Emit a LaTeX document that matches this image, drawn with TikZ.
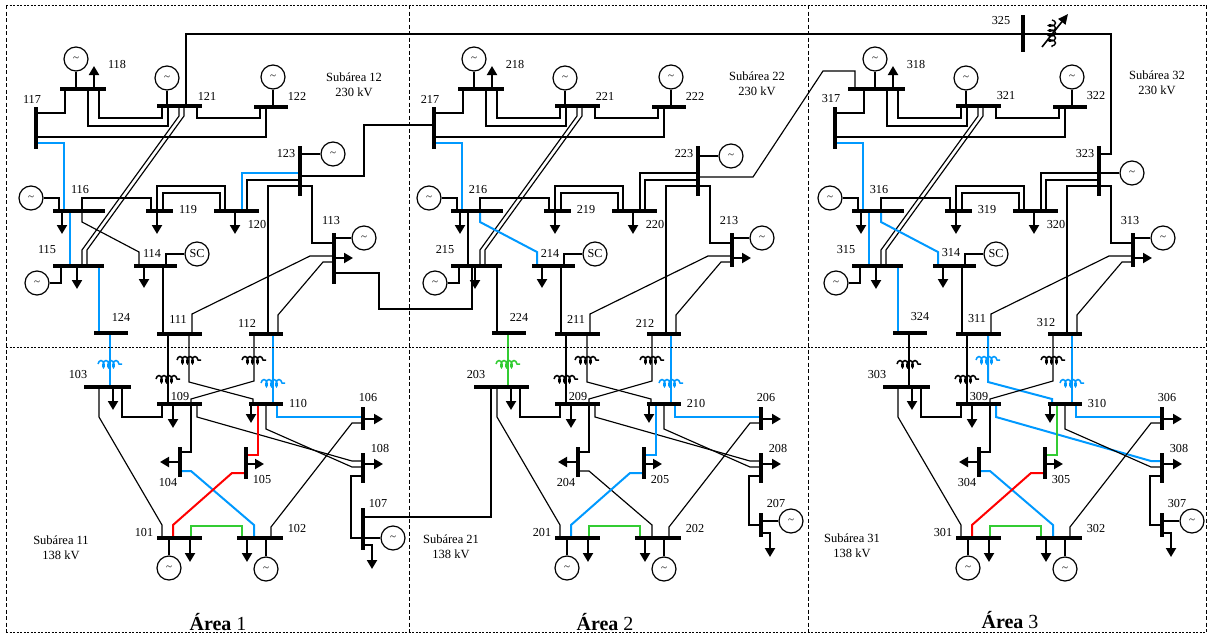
\documentclass[tikz,border=0pt]{standalone}
\usepackage{fontspec}
\setmainfont{Liberation Serif}
\usetikzlibrary{arrows.meta,decorations.pathmorphing}
\definecolor{cB}{RGB}{0,153,255}
\definecolor{cR}{RGB}{255,0,0}
\definecolor{cG}{RGB}{51,204,51}
\tikzset{
  ln/.style={draw=black,line width=1.15pt},
  lblue/.style={draw=cB,line width=2pt},
  lred/.style={draw=cR,line width=2pt},
  lgreen/.style={draw=cG,line width=2pt},
  bus/.style={draw=black,line width=3.2pt},
  load/.style={draw=black,line width=2pt,-{Triangle[length=9pt,width=10pt]}},
  gen/.style={circle,draw,line width=1.2pt,minimum size=24pt,inner sep=0pt,font=\fontsize{11}{11}\selectfont},
  lab/.style={inner sep=0pt,font=\fontsize{12.2}{14}\selectfont},
  sub/.style={inner sep=0pt,align=center,font=\fontsize{12.5}{15}\selectfont},
  frameV/.style={draw=black,line width=0.8pt,dash pattern=on 4pt off 2.5pt},
  frameH/.style={draw=black,line width=0.8pt,dash pattern=on 2pt off 1.5pt},
  arealab/.style={inner sep=0pt,font=\fontsize{20}{20}\selectfont},
}
\newcommand\xf[3]{\draw[#3,line width=1.5pt,decorate,decoration={coil,aspect=0.5,segment length=5pt,amplitude=3.5pt}] ({#1-12},#2) -- ({#1+12},#2);}
\newcommand\drawarea{%
 % ---------- lines ----------
 \draw[ln] (36,113) -| (65,89);
 \draw[ln] (99,89) |- (162,118) -- (162,106);
 \draw[ln] (88,89) |- (168,126) -- (168,106);
 \draw[ln] (197,106) |- (260,118) -- (260,107);
 \draw[ln] (36,137) -| (266,107);
 \draw[ln] (179,106) -- (179,116) -- (82,250) -- (82,266);
 \draw[ln] (184,106) -- (184,116) -- (87,250) -- (87,266);
 \draw[sSix] (300,173) -| (242,211);
 \draw[ln] (300,180) -| (247,211);
 \draw[ln] (300,186) -| (268,334);
 \draw[ln] (300,186) -| (312,243) -- (334,243);
 \draw[lblue] (36,143) -| (64,211);
 \draw[sTwo] (70,211) -- (70,266);
 \draw[sThree] (82,211) -- (82,222) -- (139,252) -- (139,266);
 \draw[ln] (82,211) |- (151,198) -- (151,211);
 \draw[ln] (157,211) |- (225,186) -- (225,211);
 \draw[ln] (163,211) |- (220,193) -- (220,211);
 \draw[sFour] (99,266) -- (99,333);
 \draw[sFive] (110,333) -- (110,387);
 \draw[ln] (163,266) -- (163,334);
 \draw[ln] (192,334) -- (192,314) -- (310,256) -- (334,256);
 \draw[ln] (278,334) -- (278,315) -- (323,262) -- (334,262);
 \draw[ln] (168,334) -- (168,404);
 \draw[sSeven] (189,334) -- (189,382) -- (253,399) -- (253,404);
 \draw[ln] (254,334) -- (254,381) -- (191,399) -- (191,404);
 \draw[lblue] (273,334) -- (273,404);
 \draw[ln] (122,387) |- (162,417) -- (162,404);
 \draw[ln] (99,387) -- (99,417) -- (162,525) -- (162,538);
 \draw[ln] (191,404) |- (180,452);
 \draw[sNine] (197,404) -- (197,417) -- (352,461) -- (363,461);
 \draw[sEleven] (258,404) |- (246,455);
 \draw[ln] (266,404) -- (266,429) -- (352,467) -- (363,467);
 \draw[lblue] (277,404) |- (363,417);
 \draw[ln] (363,423) -- (352,423) -- (271,527) -- (271,538);
 \draw[sThirteen] (180,471) -- (191,471) -- (254,525) -- (254,538);
 \draw[sTwelve] (246,473) -- (232,473) -- (173,525) -- (173,538);
 \draw[lgreen] (191,538) |- (242,526) -- (242,538);
 \draw[ln] (363,476) -- (351,476) |- (363,\yJ);
 % ---------- transformers ----------
 \xf{110}{364}{sFive}
 \xf{168}{379}{ln}
 \xf{189}{360}{sSeven}
 \xf{254}{360}{ln}
 \xf{273}{383}{lblue}
 % ---------- generators ----------
 \node[gen] (g\AR18) at (76,59) {\textasciitilde};
 \draw[ln] (g\AR18) -- (76,89);
 \node[gen] (g\AR21) at (167,78) {\textasciitilde};
 \draw[ln] (g\AR21) -- (167,106);
 \node[gen] (g\AR22) at (273,77) {\textasciitilde};
 \draw[ln] (g\AR22) -- (273,107);
 \node[gen] (g\AR23) at (333,\yGT) {\textasciitilde};
 \draw[ln] (300,\yGT) -- (g\AR23);
 \node[gen] (g\AR16) at (31,198) {\textasciitilde};
 \draw[ln] (g\AR16) -| (59,211);
 \node[gen] (g\AR15) at (37,283) {\textasciitilde};
 \draw[ln] (g\AR15) -| (61,266);
 \node[gen,font=\fontsize{12.2}{14}\selectfont] (sc\AR14) at (197,254) {SC};
 \draw[ln] (sc\AR14) -| (166,266);
 \node[gen] (g\AR13) at (364,238) {\textasciitilde};
 \draw[ln] (334,238) -- (g\AR13);
 \node[gen] (g\AR07) at (393,\yG) {\textasciitilde};
 \draw[ln] (363,\yG) -- (g\AR07);
 \node[gen] (g\AR01) at (169,568) {\textasciitilde};
 \draw[ln] (169,538) -- (g\AR01);
 \node[gen] (g\AR02) at (266,569) {\textasciitilde};
 \draw[ln] (266,538) -- (g\AR02);
 % ---------- loads ----------
 \draw[load] (94,89) -- (94,66);
 \draw[load] (62,211) -- (62,234);
 \draw[load] (157,211) -- (157,234);
 \draw[load] (235,211) -- (235,234);
 \draw[load] (77,266) -- (77,289);
 \draw[load] (144,266) -- (144,288);
 \draw[load] (334,258) -- (353,258);
 \draw[load] (113,387) -- (113,410);
 \draw[load] (173,404) -- (173,428);
 \draw[load] (251,404) -- (251,423);
 \draw[load] (363,419) -- (383,419);
 \draw[load] (363,464) -- (383,464);
 \draw[load] (180,462) -- (160,462);
 \draw[load] (246,464) -- (264,464);
 \draw[load] (190,538) -- (190,562);
 \draw[load] (247,538) -- (247,562);
 \draw[load] (363,\yL) -- (372,\yL) -- (372,\yLt);
 % ---------- buses ----------
 \draw[bus] (36,107) -- (36,149);
 \draw[bus] (\xEi,89) -- (106,89);
 \draw[bus] (157,106) -- (202,106);
 \draw[bus] (254,107) -- (288,107);
 \draw[bus] (300,146) -- (300,196);
 \draw[bus] (53,211) -- (105,211);
 \draw[bus] (146,211) -- (173,211);
 \draw[bus] (214,211) -- (259,211);
 \draw[bus] (53,266) -- (104,266);
 \draw[bus] (134,266) -- (177,266);
 \draw[bus] (94,333) -- (128,333);
 \draw[bus] (157,334) -- (202,334);
 \draw[bus] (249,334) -- (283,334);
 \draw[bus] (334,233) -- (334,\yTt);
 \draw[bus] (\xTh,387) -- (131,387);
 \draw[bus] (157,404) -- (202,404);
 \draw[bus] (249,404) -- (283,404);
 \draw[bus] (363,407) -- (363,430);
 \draw[bus] (363,453) -- (363,483);
 \draw[bus] (363,\yB) -- (363,\yE);
 \draw[bus] (180,447) -- (180,477);
 \draw[bus] (246,447) -- (246,479);
 \draw[bus] (157,538) -- (202,538);
 \draw[bus] (237,538) -- (283,538);
 % ---------- labels ----------
 \node[lab] (l\AR17) at (32,99) {\AR17};
 \node[lab] (l\AR18) at (117,65) {\AR18};
 \node[lab] (l\AR21) at (207,96) {\AR21};
 \node[lab] (l\AR22) at (297,96) {\AR22};
 \node[lab] (l\AR23) at (286,154) {\AR23};
 \node[lab] (l\AR16) at (80,190) {\AR16};
 \node[lab] (l\AR19) at (188,210) {\AR19};
 \node[lab] (l\AR20) at (257,224) {\AR20};
 \node[lab] (l\AR15) at (47,250) {\AR15};
 \node[lab] (l\AR14) at (152,253) {\AR14};
 \node[lab] (l\AR24) at (121,317) {\AR24};
 \node[lab] (l\AR11) at (178,319) {\AR11};
 \node[lab] (l\AR12) at (247,323) {\AR12};
 \node[lab] (l\AR13) at (331,221) {\AR13};
 \node[lab] (l\AR03) at (78,374) {\AR03};
 \node[lab] (l\AR09) at (180,396) {\AR09};
 \node[lab] (l\AR10) at (298,403) {\AR10};
 \node[lab] (l\AR06) at (368,397) {\AR06};
 \node[lab] (l\AR08) at (380,448) {\AR08};
 \node[lab] (l\AR07) at (378,503) {\AR07};
 \node[lab] (l\AR04) at (168,482) {\AR04};
 \node[lab] (l\AR05) at (262,479) {\AR05};
 \node[lab] (l\AR01) at (144,532) {\AR01};
 \node[lab] (l\AR02) at (297,528) {\AR02};
}
\begin{document}
\begin{tikzpicture}[x=1pt,y=-1pt]
\useasboundingbox (0,0) rectangle (1211,635);
% ===== Area 1 =====
\def\AR{1}
\tikzset{sTwo/.style=lblue,sThree/.style=ln,sFour/.style=lblue,sFive/.style=lblue,sSix/.style=lblue,
 sSeven/.style=ln,sNine/.style=ln,sEleven/.style=lred,sTwelve/.style=lred,sThirteen/.style=lblue}
\def\xEi{60}\def\xTh{84}\def\yTt{284}\def\yGT{154}
\def\yB{508}\def\yE{550}\def\yG{538}\def\yJ{538}\def\yL{545}\def\yLt{569}
\drawarea
% ===== Area 2 =====
\begin{scope}[xshift=398pt]
\def\AR{2}
\tikzset{sTwo/.style=ln,sThree/.style=lblue,sFour/.style=ln,sFive/.style=lgreen,sSix/.style=ln,
 sSeven/.style=ln,sNine/.style=ln,sEleven/.style=lblue,sTwelve/.style=lblue,sThirteen/.style=ln}
\def\xEi{60}\def\xTh{76}\def\yTt{267}\def\yGT{156}
\def\yB{513}\def\yE{537}\def\yG{521}\def\yJ{525}\def\yL{533}\def\yLt{557}
\drawarea
\end{scope}
% ===== Area 3 =====
\begin{scope}[xshift=799pt]
\def\AR{3}
\tikzset{sTwo/.style=lblue,sThree/.style=lblue,sFour/.style=lblue,sFive/.style=ln,sSix/.style=ln,
 sSeven/.style=lblue,sNine/.style=lblue,sEleven/.style=lgreen,sTwelve/.style=lred,sThirteen/.style=lblue}
\def\xEi{49}\def\xTh{84}\def\yTt{267}\def\yGT{173}
\def\yB{513}\def\yE{537}\def\yG{521}\def\yJ{525}\def\yL{533}\def\yLt{557}
\drawarea
\end{scope}
% ===== inter-area ties =====
\draw[bus] (1023,15) -- (1023,52);
\node[lab] (l325) at (1001,21) {325};
\draw[ln] (186,106) -- (186,34) -- (1023,34);
\draw[ln] (1023,34) -- (1111,34) -- (1111,154) -- (1098,154);
\draw[ln] (300,176) -- (364,176) -- (364,125) -- (434,125);
\draw[ln] (334,273) -- (379,273) -- (379,309) -- (472,309) -- (472,266);
\draw[ln] (363,517) -- (491,517) -- (491,387);
\draw[ln] (698,177) -- (753,177) -- (823,71) -- (855,71) -- (855,88);
% phase shifter
\draw[ln,line width=1.4pt,decorate,decoration={coil,aspect=0.5,segment length=5pt,amplitude=3.5pt}] (1052,20) -- (1052,47);
\draw[line width=1.6pt,-{Triangle[length=10pt,width=9pt]}] (1042,47) -- (1068,14);
% ===== sub-area texts =====
\node[sub] (s12) at (354,85) {Subárea 12\\230 kV};
\node[sub] (s22) at (757,84) {Subárea 22\\230 kV};
\node[sub] (s32) at (1157,83) {Subárea 32\\230 kV};
\node[sub] (s11) at (61,548) {Subárea 11\\138 kV};
\node[sub] (s21) at (451,547) {Subárea 21\\138 kV};
\node[sub] (s31) at (852,546) {Subárea 31\\138 kV};
\node[arealab] (a1) at (218,622) {\textbf{Área} 1};
\node[arealab] (a2) at (605,622) {\textbf{Área} 2};
\node[arealab] (a3) at (1010,620) {\textbf{Área} 3};
% ===== frames =====
\draw[frameV] (6,5) -- (6,632);
\draw[frameV] (409,5) -- (409,632);
\draw[frameV] (808,5) -- (808,632);
\draw[frameV] (1206,5) -- (1206,632);
\draw[frameH] (6,5) -- (1206,5);
\draw[frameH] (6,347) -- (1206,347);
\draw[frameH] (6,632) -- (1206,632);
\end{tikzpicture}
\end{document}
